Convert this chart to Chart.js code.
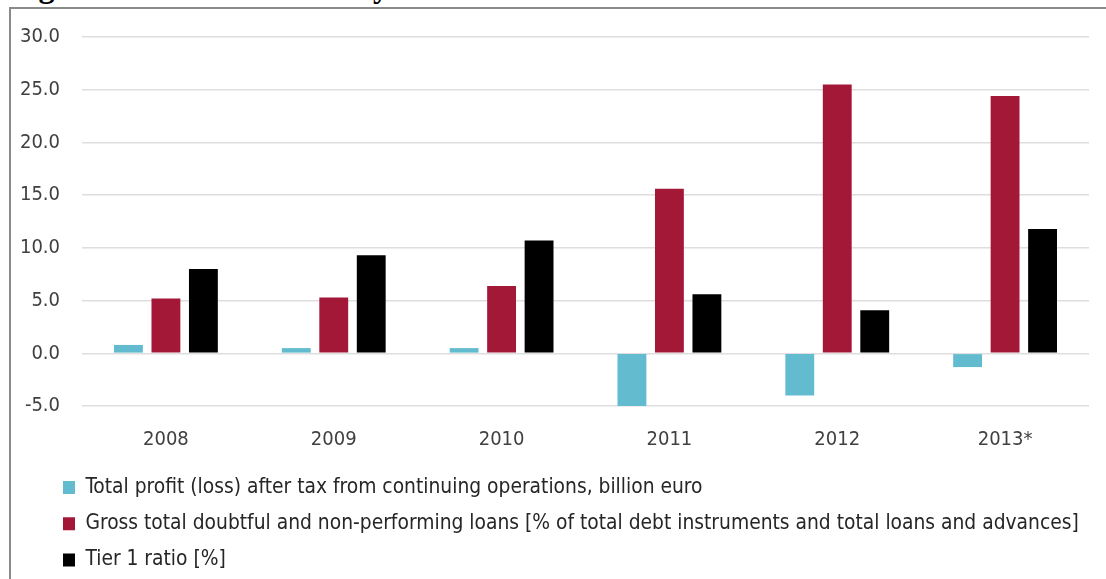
<!DOCTYPE html>
<html>
<head>
<meta charset="utf-8">
<script src="https://cdn.jsdelivr.net/npm/chart.js@4/dist/chart.umd.min.js"></script>
<style>
  html, body { margin: 0; padding: 0; background: #fff; overflow: hidden; }
  body { width: 1106px; height: 579px; position: relative; }
  #frame { position: absolute; left: 9px; top: 7px; width: 1200px; height: 700px; border: 2px solid #8a8a8a; box-sizing: border-box; }
  #title { position: absolute; left: 10px; top: -30px; font: bold 32px "Liberation Serif", serif; line-height: 32px; white-space: nowrap; color: #000; }
  #wrap { position: absolute; left: 0; top: 0; width: 1106px; height: 579px; }
</style>
</head>
<body>
<div id="title">Figure 5: Financial stability indicators</div>
<div id="frame"></div>
<div id="wrap"><canvas id="c" width="1106" height="579"></canvas></div>
<script>
const categories = ["2008", "2009", "2010", "2011", "2012", "2013*"];
const profit = [0.8, 0.5, 0.5, -5.1, -4.0, -1.3];
const npl = [5.2, 5.3, 6.4, 15.6, 25.5, 24.4];
const tier1 = [8.0, 9.3, 10.7, 5.6, 4.1, 11.8];
const seriesNames = [
  "Total profit (loss) after tax from continuing operations, billion euro",
  "Gross total doubtful and non-performing loans [% of total debt instruments and total loans and advances]",
  "Tier 1 ratio [%]"
];
const yMin = -5, yMax = 30, yStep = 5;

const font = "'DejaVu Sans Condensed', 'DejaVu Sans', sans-serif";

const legendShift = {
  id: 'legendShift',
  afterLayout(chart) {
    if (chart.legend) {
      chart.legend.left = 47.5;
      chart.legend.top += 1.5;
    }
  }
};

new Chart(document.getElementById('c'), {
  type: 'bar',
  data: {
    labels: categories,
    datasets: [
      { label: seriesNames[0], data: profit, backgroundColor: '#62bbcf' },
      { label: seriesNames[1], data: npl, backgroundColor: '#a31836' },
      { label: seriesNames[2], data: tier1, backgroundColor: '#000000' }
    ]
  },
  options: {
    responsive: false,
    animation: false,
    devicePixelRatio: 1,
    categoryPercentage: 0.67,
    barPercentage: 0.77,
    layout: { padding: { top: 37, right: 17, bottom: 0, left: 0 } },
    plugins: {
      tooltip: { enabled: false },
      legend: {
        position: 'bottom',
        align: 'start',
        labels: {
          boxWidth: 12,
          boxHeight: 13,
          padding: 15.5,
          color: '#262626',
          font: { family: font, size: 20.8 }
        }
      }
    },
    scales: {
      x: {
        grid: { display: false, drawTicks: false },
        border: { display: false },
        ticks: { color: '#404040', padding: 22, font: { family: font, size: 20 } },
        afterFit(s) { s.height = 54; }
      },
      y: {
        min: yMin, max: yMax,
        grid: { color: '#dedede', lineWidth: 1.5, drawTicks: false },
        border: { display: false },
        ticks: {
          stepSize: yStep, color: '#404040', padding: 22,
          font: { family: font, size: 20 },
          callback: v => v.toFixed(1)
        },
        afterFit(s) { s.width = 82; }
      }
    }
  },
  plugins: [legendShift]
});
</script>
</body>
</html>
